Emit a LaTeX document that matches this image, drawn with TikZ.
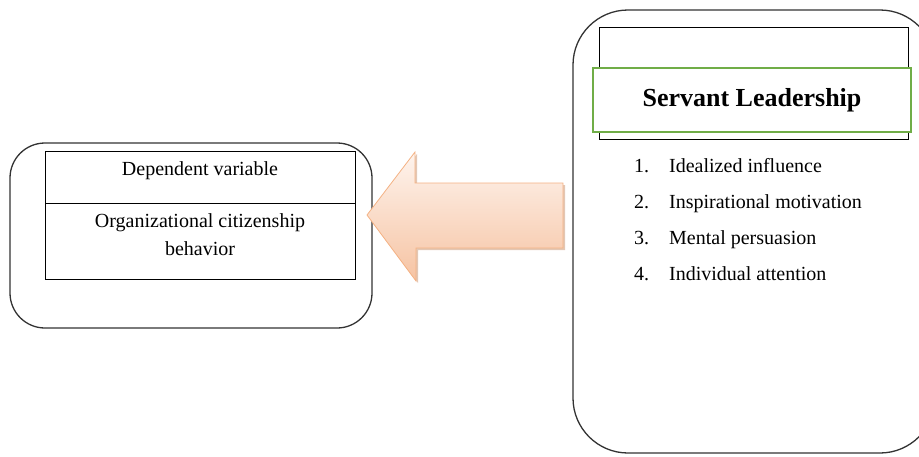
\documentclass[tikz,border=0pt]{standalone}
\usepackage{fontspec}
\setmainfont{Liberation Serif}
\usetikzlibrary{shapes,shadows}
\usetikzlibrary{positioning}
\definecolor{frame}{HTML}{333333}
\definecolor{leafgreen}{HTML}{70AD47}
\definecolor{peach}{HTML}{F4B183}
\definecolor{peachlight}{HTML}{FEF4EE}
\definecolor{peachdark}{HTML}{F6C3A2}
\tikzstyle{outer}=[draw=frame,line width=1.3pt,rounded corners=35pt,inner sep=0pt]
\tikzstyle{cell}=[draw=black,line width=1pt,inner sep=0pt,outer sep=0pt,
                minimum width=310pt,align=center,font=\fontsize{20}{28}\selectfont]
\tikzstyle{title}=[draw=leafgreen,line width=2pt,fill=white,inner sep=0pt,
                minimum width=318pt,minimum height=64pt,font=\bfseries\fontsize{26}{30}\selectfont]
\tikzstyle{item}=[anchor=base west,inner sep=0pt,font=\fontsize{20}{24}\selectfont]
\tikzstyle{bigarrow}=[draw=peach,line width=0.8pt,top color=peachlight,bottom color=peachdark,
                drop shadow={shadow xshift=2pt,shadow yshift=-2pt,fill=peach!70!gray,opacity=0.6}]

\begin{document}
\begin{tikzpicture}[x=1pt,y=-1pt]
\useasboundingbox (0,0) rectangle (919,456);
% dependent variable
\node[outer,minimum width=362pt,minimum height=185pt] (dep) at (191,235.5) {};
\node[cell,text height=24pt,text depth=28pt] (dephead) at (200,177) {Dependent variable};
\node[cell,minimum height=76pt,below=0pt of dephead] (depbody) {};
\node[align=center,font=\fontsize{20}{28}\selectfont] (depname) at (200,235)
  {Organizational citizenship\\behavior};
% servant leadership
\node[outer,rounded corners=55pt,minimum width=362pt,minimum height=443pt] (lead) at (754,231.5) {};
\node[draw=black,line width=1pt,inner sep=0pt,minimum width=309pt,minimum height=112pt]
  (leadhead) at (753.5,83) {};
\node[title] (leadtitle) at (752,100) {Servant Leadership};
\foreach \txt [count=\i] in {Idealized influence,Inspirational motivation,
                             Mental persuasion,Individual attention}{
  \node[item] (num\i) at (634,136+36*\i) {\i.};
  \node[item] (item\i) at (669,136+36*\i) {\txt};
}
% block arrow
\coordinate (tip) at (367,215);
\coordinate (tail) at (563,215);
\draw[bigarrow] (tail) ++(0,-32) -- ++(-148,0) -- ++(0,-31) -- (tip)
  -- ++(49,66) -- ++(0,-33) -- ++(147,0) -- cycle;
\end{tikzpicture}
\end{document}
